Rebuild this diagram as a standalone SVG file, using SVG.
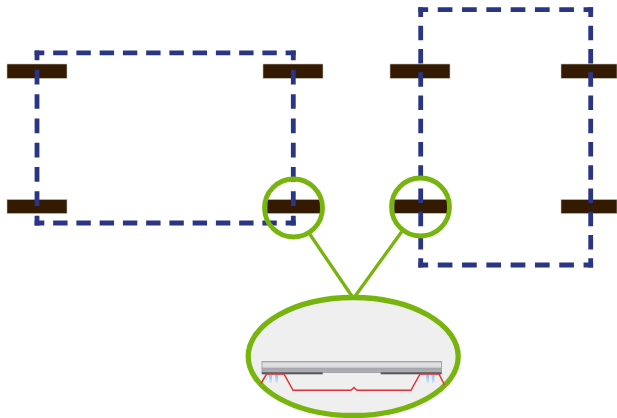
<svg xmlns="http://www.w3.org/2000/svg" width="617" height="418" viewBox="0 0 617 418">
<style>
.bar{fill:#331a00;stroke:#c9c2b8;stroke-width:.6}
.dash{fill:none;stroke:#2b3585;stroke-width:4.8}
.long{stroke-dasharray:14.7 9.6;stroke-dashoffset:4.85}
.short{stroke-dasharray:14.4 8.85;stroke-dashoffset:4.7}
.ring{fill:none;stroke:#77b50e;stroke-width:4.8}
.link{stroke:#77b50e;stroke-width:3.3;fill:none}
.red{fill:none;stroke:#e0323a;stroke-width:1.5}
</style>
<defs>
<linearGradient id="plate" x1="0" y1="0" x2="0" y2="1">
<stop offset="0" stop-color="#b4b4ba"/><stop offset=".2" stop-color="#e4e4e8"/><stop offset=".5" stop-color="#dcdce0"/><stop offset=".62" stop-color="#a6a6ac"/><stop offset="1" stop-color="#b0b0b6"/>
</linearGradient>
<linearGradient id="drip" x1="0" y1="0" x2="0" y2="1">
<stop offset="0" stop-color="#8fbdf0"/><stop offset="1" stop-color="#d4e4f4"/>
</linearGradient>
</defs>
<rect width="617" height="418" fill="#fff"/>
<g id="bar-a"><rect class="bar" x="7" y="64" width="60" height="14.300"/></g>
<g id="bar-b"><rect class="bar" x="263" y="64" width="60" height="14.300"/></g>
<g id="bar-c"><rect class="bar" x="390" y="64" width="60" height="14.300"/></g>
<g id="bar-d"><rect class="bar" x="561" y="64" width="56" height="14.300"/></g>
<g id="bar-e"><rect class="bar" x="7" y="199.500" width="60" height="14"/></g>
<g id="bar-f"><rect class="bar" x="267" y="199.500" width="53.500" height="14"/></g>
<g id="bar-g"><rect class="bar" x="394" y="199.300" width="53.500" height="14"/></g>
<g id="bar-h"><rect class="bar" x="561" y="199.500" width="56" height="14"/></g>
<g id="frame-left" class="dash">
<path class="short" d="M34.600 52.800H295.700"/>
<path class="short" d="M34.600 223H295.700"/>
<path class="long" d="M37 50.400V225.400"/>
<path class="long" d="M293.300 50.400V225.400"/>
</g>
<g id="frame-right" class="dash">
<path class="long" d="M418.300 9.700H593.100"/>
<path class="long" d="M418.300 265H593.100"/>
<path class="short" d="M420.700 7.300V267.400"/>
<path class="short" d="M590.700 7.300V267.400"/>
</g>
<g id="connectors">
<line class="link" x1="310" y1="234.500" x2="352.500" y2="297"/>
<line class="link" x1="401.700" y1="231.700" x2="354.500" y2="297"/>
</g>
<g id="lens-left"><circle class="ring" cx="293.500" cy="208" r="29"/></g>
<g id="lens-right"><circle class="ring" cx="420.500" cy="207" r="29"/></g>
<g id="detail">
<ellipse cx="353.200" cy="356.500" rx="105" ry="59" fill="#efefef" stroke="#77b50e" stroke-width="5.300"/>
<rect x="262" y="361.500" width="179.500" height="11" fill="url(#plate)" stroke="#98989e" stroke-width=".8"/>
<rect x="261.700" y="372.300" width="61" height="2" fill="#55555b"/>
<rect x="380.700" y="372.300" width="61" height="2" fill="#55555b"/>
<path class="red" d="M261 383.500L266.500 374H284L293 390.300H351L354 387.500L357 390.300H411L420 374H439L444.500 385"/>
<g fill="url(#drip)">
<path d="M269 375h3.300l-.6 8h-2z"/><path d="M275 375h3.300l-.6 8h-2z"/>
<path d="M426 375h3.300l-.6 8h-2z"/><path d="M431.500 375h3.300l-.6 8h-2z"/>
</g>
</g>
</svg>
